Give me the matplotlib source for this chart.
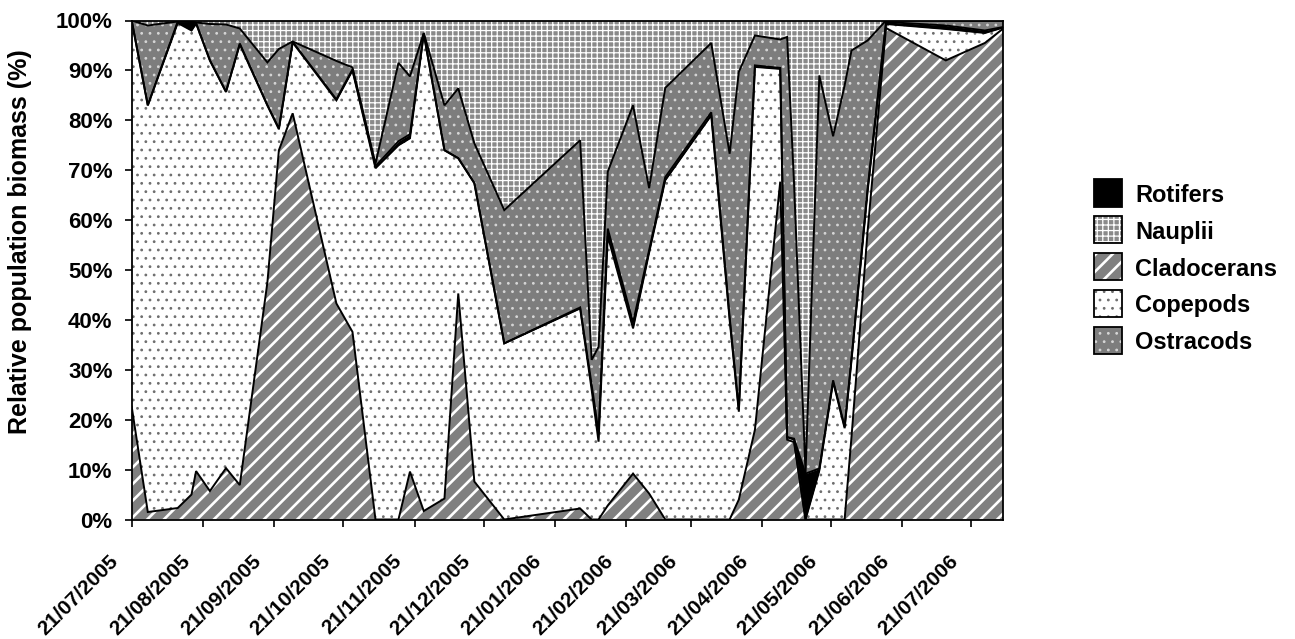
import matplotlib
matplotlib.use("Agg")
import matplotlib.pyplot as plt
import matplotlib.dates as mdates
from matplotlib.patches import Rectangle
from matplotlib.transforms import ScaledTranslation
import numpy as np
import pandas as pd

# sampling dates (dd/mm/yyyy) and relative biomass (%) of each group
SAMPLE_DATES = [
    "21/07/2005", "28/07/2005", "10/08/2005", "16/08/2005", "18/08/2005",
    "24/08/2005", "31/08/2005", "06/09/2005", "18/09/2005", "23/09/2005",
    "29/09/2005", "18/10/2005", "25/10/2005", "04/11/2005", "14/11/2005",
    "19/11/2005", "25/11/2005", "04/12/2005", "10/12/2005", "17/12/2005",
    "30/12/2005", "01/02/2006", "06/02/2006", "09/02/2006", "13/02/2006",
    "24/02/2006", "03/03/2006", "10/03/2006", "30/03/2006", "07/04/2006",
    "11/04/2006", "18/04/2006", "29/04/2006", "02/05/2006", "05/05/2006",
    "10/05/2006", "16/05/2006", "22/05/2006", "27/05/2006", "30/05/2006",
    "06/06/2006", "14/06/2006", "10/07/2006", "27/07/2006", "04/08/2006",
]
CLADOCERANS = [
    22.6, 1.5, 2.3, 5.0, 9.7, 5.7, 10.3, 6.9, 47.5, 74.0,
    81.4, 43.3, 37.6, 0.0, 0.0, 9.6, 1.7, 4.2, 45.3, 7.6,
    0.0, 2.2, 0.0, 0.0, 2.8, 9.2, 5.2, 0.0, 0.0, 0.0,
    4.0, 18.0, 67.7, 16.0, 15.5, 0.0, 0.0, 0.0, 0.0, 16.6,
    57.8, 98.5, 92.0, 95.5, 98.4,
]
COPEPODS = [
    77.4, 81.5, 97.2, 93.0, 89.7, 86.3, 75.4, 88.3, 35.5, 4.2,
    14.2, 40.7, 52.4, 70.4, 75.0, 66.8, 95.6, 69.8, 27.1, 59.8,
    35.3, 40.1, 26.0, 15.6, 54.0, 29.1, 48.3, 68.0, 81.0, 40.0,
    17.6, 72.7, 22.6, 0.5, 0.5, 0.0, 9.8, 27.6, 18.3, 15.3,
    8.0, 0.8, 6.3, 2.0, 0.2,
]
ROTIFERS = [
    0.0, 0.0, 0.3, 1.7, 0.1, 0.0, 0.0, 0.2, 0.0, 0.2,
    0.1, 0.2, 0.2, 0.4, 0.8, 0.8, 0.1, 0.0, 0.0, 0.0,
    0.0, 0.2, 1.0, 1.9, 1.5, 1.2, 0.5, 0.6, 0.6, 0.6,
    0.4, 0.3, 0.2, 0.0, 0.2, 9.2, 0.4, 0.3, 0.3, 0.4,
    0.5, 0.4, 0.7, 0.5, 0.1,
]
OSTRACODS = [
    0.0, 16.0, 0.0, 0.0, 0.1, 7.3, 13.5, 3.0, 8.6, 15.9,
    0.1, 7.7, 0.4, 0.5, 15.7, 11.6, 0.1, 9.0, 14.0, 8.0,
    26.7, 33.5, 5.0, 17.1, 11.4, 43.5, 12.4, 17.9, 13.9, 32.7,
    67.7, 6.0, 5.7, 80.2, 51.3, 0.2, 78.8, 48.9, 68.4, 61.7,
    29.7, 0.3, 1.0, 2.0, 1.3,
]
NAUPLII = [
    0.0, 1.0, 0.2, 0.3, 0.4, 0.7, 0.8, 1.6, 8.4, 5.7,
    4.2, 8.1, 9.4, 28.7, 8.5, 11.2, 2.5, 17.0, 13.6, 24.6,
    38.0, 24.0, 68.0, 65.4, 30.3, 17.0, 33.6, 13.5, 4.5, 26.7,
    10.3, 3.0, 3.8, 3.3, 32.5, 90.6, 11.0, 23.2, 13.0, 6.0,
    4.0, 0.0, 0.0, 0.0, 0.0,
]

# stacking order (bottom -> top) and legend order
STACK = [
    ("Cladocerans", CLADOCERANS),
    ("Copepods", COPEPODS),
    ("Rotifers", ROTIFERS),
    ("Ostracods", OSTRACODS),
    ("Nauplii", NAUPLII),
]
LEGEND_ORDER = ["Rotifers", "Nauplii", "Cladocerans", "Copepods", "Ostracods"]

STYLES = {
    "Cladocerans": dict(face="#808080", hatch="//", hcolor="white", hlw=1.9),
    "Copepods": dict(face="white", hatch="..", hcolor="#6e6e6e", hlw=0.8),
    "Rotifers": dict(face="black", hatch=None, hcolor="black", hlw=1.0),
    "Ostracods": dict(face="#7d7d7d", hatch="..", hcolor="#d6d6d6", hlw=0.8),
    "Nauplii": dict(face="#8a8a8a", hatch="+++", hcolor="white", hlw=0.9),
}

FONT = "Liberation Sans"


def hatched(make, st):
    with plt.rc_context({"hatch.linewidth": st["hlw"]}):
        art = make()
    if hasattr(art, "set_hatch_linewidth"):
        art.set_hatch_linewidth(st["hlw"])
    return art


def main() -> None:
    plt.rcParams["font.family"] = [FONT, "DejaVu Sans"]
    plt.rcParams["font.weight"] = "bold"

    dates = pd.to_datetime(SAMPLE_DATES, format="%d/%m/%Y")
    W, H = 1295, 639
    fig = plt.figure(figsize=(W / 100, H / 100), dpi=100)
    ax = fig.add_axes([131.7 / W, (H - 519.5) / H, 871.6 / W, 499.0 / H])

    lower = np.zeros(len(dates))
    tops = []
    for name, vals in STACK:
        st = STYLES[name]
        upper = lower + np.asarray(vals, dtype=float)
        hatched(lambda: ax.fill_between(dates, lower, upper, facecolor=st["face"],
                                        edgecolor=st["hcolor"], hatch=st["hatch"],
                                        linewidth=0, zorder=1), st)
        tops.append(upper)
        lower = upper

    for upper in tops[:-1]:
        ax.plot(dates, upper, color="black", lw=1.4, zorder=3, solid_joinstyle="miter")

    ax.set_xlim(dates[0], dates[-1])
    ax.set_ylim(0, 100)
    ax.set_yticks(np.arange(0, 101, 10))
    ax.set_yticklabels([f"{v}%" for v in range(0, 101, 10)])
    ax.xaxis.set_major_locator(mdates.MonthLocator(bymonthday=21))
    ax.xaxis.set_major_formatter(mdates.DateFormatter("%d/%m/%Y"))

    for sp in ax.spines.values():
        sp.set_linewidth(1.3)
        sp.set_zorder(4)
    ax.tick_params(axis="both", direction="out", length=4.8, width=1.2)
    ax.tick_params(axis="y", pad=9, labelsize=16)
    ax.tick_params(axis="x", pad=23, labelsize=15)

    offset = ScaledTranslation(-16 / 100, 0, fig.dpi_scale_trans)
    for lab in ax.get_xticklabels():
        lab.set_rotation(45)
        lab.set_ha("right")
        lab.set_va("center")
        lab.set_rotation_mode("anchor")
        lab.set_fontweight("bold")
        lab.set_transform(lab.get_transform() + offset)
    for lab in ax.get_yticklabels():
        lab.set_fontweight("bold")

    ax.set_ylabel("Relative population biomass (%)", fontsize=18, fontweight="bold")
    ax.yaxis.set_label_coords(-0.114, 0.556)

    # legend drawn by hand: square swatches with a black frame
    for i, name in enumerate(LEGEND_ORDER):
        st = STYLES[name]
        yc = 192.7 + i * 36.9
        x0, x1 = 1093.5, 1121.5
        y0 = H - (yc + 13.8)
        rect = (x0 / W, y0 / H)
        w, h = (x1 - x0) / W, 27.6 / H
        sw = hatched(lambda: Rectangle(rect, w, h, transform=fig.transFigure,
                                       facecolor=st["face"], edgecolor=st["hcolor"],
                                       hatch=st["hatch"], linewidth=0), st)
        fig.add_artist(sw)
        fig.add_artist(Rectangle(rect, w, h, transform=fig.transFigure,
                                 facecolor="none", edgecolor="black", linewidth=1.3))
        fig.text(1135 / W, 1 - yc / H, name, fontsize=17, fontweight="bold",
                 ha="left", va="center_baseline")

    fig.savefig("out.png", dpi=100)
    plt.close(fig)


if __name__ == "__main__":
    main()
